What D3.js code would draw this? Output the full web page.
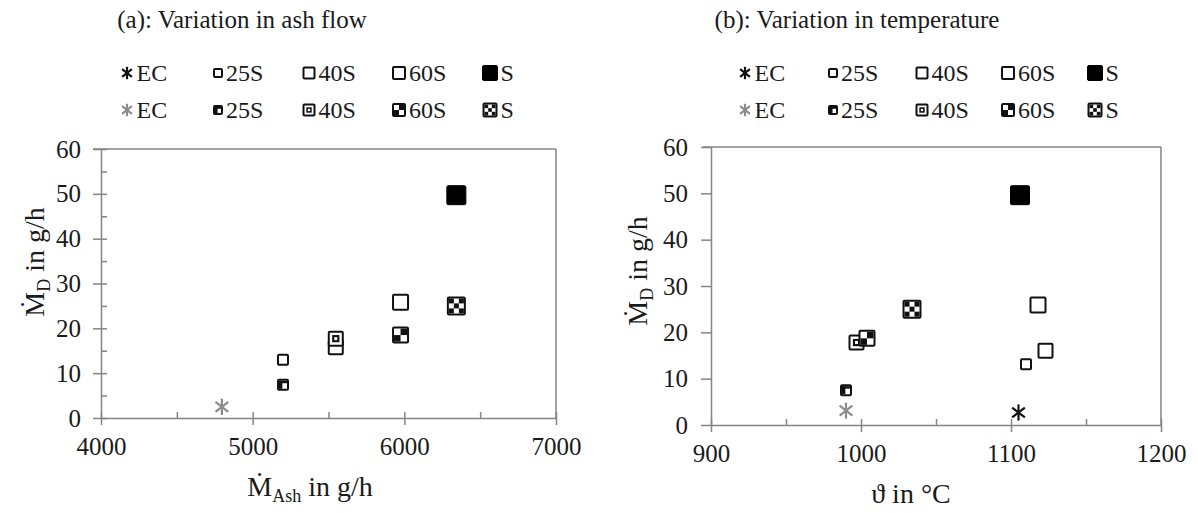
<!DOCTYPE html>
<html>
<head>
<meta charset="utf-8">
<script src="https://cdn.jsdelivr.net/npm/d3@7"></script>
<style>
  html, body { margin: 0; padding: 0; background: #fff; }
  svg text { font-family: "Liberation Serif", "Times New Roman", serif; fill: #1a1a1a; }
</style>
</head>
<body>
<svg id="chart" width="1198" height="513"></svg>
<script>
// Series labels (one per marker kind)
const seriesLabels = ["EC", "25S", "40S", "60S", "S"];

// (a) deposition rate vs. ash flow
const ashOpenX = [null, 5200, 5548, 5975, 6343];
const ashOpenY = [null, 13.0, 15.8, 25.8, 49.7];
const ashPatX  = [4797, 5200, 5548, 5975, 6343];
const ashPatY  = [2.5, 7.4, 17.7, 18.5, 25.0];

// (b) deposition rate vs. temperature
const tempOpenX = [1105, 1110, 1123, 1118, 1106];
const tempOpenY = [2.7, 13.1, 16.0, 25.9, 49.6];
const tempPatX  = [990, 990, 997, 1004, 1034];
const tempPatY  = [3.1, 7.5, 17.8, 18.7, 25.0];

// Axis ticks
const ashTicks = [4000, 5000, 6000, 7000];
const ashMinor = [4500, 5500, 6500];
const tempTicks = [900, 1000, 1100, 1200];
const tempMinor = [950, 1050, 1150];
const yTicks = [0, 10, 20, 30, 40, 50, 60];
const yMinor = [5, 15, 25, 35, 45, 55];

const svg = d3.select("#chart");
const AXIS = "#858585";
const GRAY = "#8c8c8c";

// marker sizes (plot / legend)
const plotSize = [17, 12, 16, 17, 19];
const legSize  = [13, 10, 13, 14, 15];

function drawMarker(g, idx, s, open) {
  const h = s / 2;
  if (idx === 0) {
    const col = open ? "#111" : GRAY;
    const a = h * 0.95;
    [90, 38, 142].forEach(d => {
      const r = d * Math.PI / 180;
      g.append("line")
        .attr("x1", -a * Math.cos(r)).attr("y1", -a * Math.sin(r))
        .attr("x2", a * Math.cos(r)).attr("y2", a * Math.sin(r))
        .attr("stroke", col).attr("stroke-width", 2.2);
    });
    return;
  }
  const sw = 2;
  if (open) {
    if (idx === 4) {
      g.append("rect").attr("x", -h).attr("y", -h).attr("width", s).attr("height", s)
        .attr("rx", 1.5).attr("fill", "#000").attr("stroke", "#000").attr("stroke-width", 1);
    } else {
      g.append("rect").attr("x", -h + 1).attr("y", -h + 1).attr("width", s - 2).attr("height", s - 2)
        .attr("rx", 1).attr("fill", "#fff").attr("stroke", "#111").attr("stroke-width", sw);
    }
    return;
  }
  // patterned variants
  g.append("rect").attr("x", -h + 1).attr("y", -h + 1).attr("width", s - 2).attr("height", s - 2)
    .attr("rx", 1).attr("fill", "#fff").attr("stroke", "#111").attr("stroke-width", sw);
  const inner = s - 4;
  const x0 = -inner / 2, y0 = -inner / 2;
  if (idx === 1) {
    g.append("rect").attr("x", x0).attr("y", y0).attr("width", inner * 0.42).attr("height", inner)
      .attr("fill", "#111");
    g.append("rect").attr("x", x0).attr("y", y0).attr("width", inner).attr("height", inner * 0.3)
      .attr("fill", "#111");
  } else if (idx === 2) {
    const c = inner * 0.6;
    g.append("rect").attr("x", -c / 2).attr("y", -c / 2).attr("width", c).attr("height", c).attr("fill", "#111");
    const d = inner * 0.25;
    g.append("rect").attr("x", -d / 2).attr("y", -d / 2).attr("width", d).attr("height", d).attr("fill", "#fff");
  } else if (idx === 3) {
    const c = inner / 2;
    g.append("rect").attr("x", 0).attr("y", y0).attr("width", c).attr("height", c).attr("fill", "#111");
    g.append("rect").attr("x", x0).attr("y", 0).attr("width", c).attr("height", c).attr("fill", "#111");
  } else if (idx === 4) {
    const c = inner / 3;
    [[0, 0], [2, 0], [1, 1], [0, 2], [2, 2]].forEach(([i, j]) => {
      g.append("rect").attr("x", x0 + i * c).attr("y", y0 + j * c).attr("width", c).attr("height", c)
        .attr("fill", "#111");
    });
  }
}

function panel(cfg) {
  const x = d3.scaleLinear().domain(cfg.xDomain).range([cfg.left, cfg.right]);
  const y = d3.scaleLinear().domain([0, 60]).range([cfg.bottom, cfg.top]);
  const g = svg.append("g");

  // frame: top and right border
  g.append("line").attr("x1", cfg.left - 8).attr("x2", cfg.right).attr("y1", cfg.top).attr("y2", cfg.top)
    .attr("stroke", AXIS).attr("stroke-width", 1.5);
  g.append("line").attr("x1", cfg.right).attr("x2", cfg.right).attr("y1", cfg.top).attr("y2", cfg.bottom)
    .attr("stroke", AXIS).attr("stroke-width", 1.5);

  // x axis: major ticks outside, inside ticks at majors and minors
  g.append("g").attr("transform", `translate(0,${cfg.bottom})`)
    .call(d3.axisBottom(x).tickValues(cfg.xTicks).tickSize(7).tickSizeOuter(0).tickPadding(12).tickFormat(d3.format("d")));
  const xi = g.append("g").attr("transform", `translate(0,${cfg.bottom})`)
    .call(d3.axisBottom(x).tickValues(cfg.xTicks.concat(cfg.xMinor)).tickSize(-6).tickSizeOuter(0).tickFormat(""));
  xi.select(".domain").remove();

  // y axis
  g.append("g").attr("transform", `translate(${cfg.left},0)`)
    .call(d3.axisLeft(y).tickValues(yTicks).tickSize(cfg.yTick).tickSizeOuter(0).tickPadding(cfg.yPad));
  if (cfg.yInner) {
    const yi = g.append("g").attr("transform", `translate(${cfg.left},0)`)
      .call(d3.axisLeft(y).tickValues(yTicks.concat(yMinor)).tickSize(-6).tickSizeOuter(0).tickFormat(""));
    yi.select(".domain").remove();
  }
  g.selectAll(".domain, .tick line").attr("stroke", AXIS).attr("stroke-width", 1.5);
  g.selectAll(".tick text").attr("font-size", 25).attr("fill", "#1a1a1a")
    .style("font-family", "'Liberation Serif', serif");

  // points: open/filled series first, patterned series on top
  cfg.openX.forEach((vx, i) => {
    if (vx == null) return;
    const m = g.append("g").attr("transform", `translate(${x(vx)},${y(cfg.openY[i])})`);
    drawMarker(m, i, plotSize[i], true);
  });
  cfg.patX.forEach((vx, i) => {
    if (vx == null) return;
    const m = g.append("g").attr("transform", `translate(${x(vx)},${y(cfg.patY[i])})`);
    drawMarker(m, i, plotSize[i], false);
  });

  // title
  svg.append("text").attr("x", cfg.titleX).attr("y", 28).attr("text-anchor", "middle")
    .attr("font-size", 25).text(cfg.title);

  // legend (two rows)
  cfg.legendX.forEach((lx, i) => {
    [true, false].forEach((open, r) => {
      const ly = r === 0 ? 73 : 110;
      const m = svg.append("g").attr("transform", `translate(${lx},${ly})`);
      drawMarker(m, i, legSize[i], open);
      svg.append("text").attr("x", lx + legSize[i] / 2 + 3).attr("y", ly + 8)
        .attr("font-size", 24).text(seriesLabels[i]);
    });
  });

  // y label
  const yl = svg.append("text").attr("transform", `translate(${cfg.yLabelX},${cfg.yLabelY}) rotate(-90)`)
    .attr("text-anchor", "middle").attr("font-size", 28);
  yl.append("tspan").text("Ṁ");
  yl.append("tspan").attr("font-size", 18).attr("dy", 6).text("D");
  yl.append("tspan").attr("dy", -6).text(" in g/h");

  // x label
  const xl = svg.append("text").attr("x", cfg.xLabelX).attr("y", cfg.xLabelY).attr("text-anchor", "middle")
    .attr("font-size", 28);
  if (cfg.xSub) {
    xl.append("tspan").text("Ṁ");
    xl.append("tspan").attr("font-size", 18).attr("dy", 6).text(cfg.xSub);
    xl.append("tspan").attr("dy", -6).text(" in g/h");
  } else {
    xl.text(cfg.xLabel);
  }
}

panel({
  xDomain: [4000, 7000], left: 101, right: 556, top: 149, bottom: 418,
  xTicks: ashTicks, xMinor: ashMinor, yTick: 8, yPad: 12, yInner: true,
  openX: ashOpenX, openY: ashOpenY, patX: ashPatX, patY: ashPatY,
  title: "(a): Variation in ash flow", titleX: 242,
  legendX: [127, 218, 309, 399, 490],
  yLabelX: 44, yLabelY: 262, xLabelX: 310, xLabelY: 496, xSub: "Ash"
});

panel({
  xDomain: [900, 1200], left: 711, right: 1161, top: 147, bottom: 425,
  xTicks: tempTicks, xMinor: tempMinor, yTick: 10, yPad: 13, yInner: false,
  openX: tempOpenX, openY: tempOpenY, patX: tempPatX, patY: tempPatY,
  title: "(b): Variation in temperature", titleX: 857,
  legendX: [745, 833, 922, 1008, 1095],
  yLabelX: 647, yLabelY: 271, xLabelX: 911, xLabelY: 503, xLabel: "ϑ in °C"
});
</script>
</body>
</html>
